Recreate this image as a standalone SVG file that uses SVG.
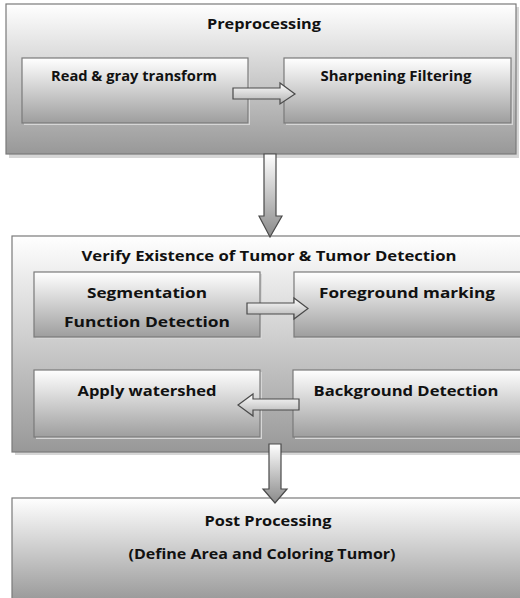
<svg xmlns="http://www.w3.org/2000/svg" width="520" height="598" viewBox="0 0 520 598">
<defs>
<linearGradient id="gOuter" x1="0" y1="0" x2="0" y2="1">
<stop offset="0" stop-color="#ffffff"/>
<stop offset="1" stop-color="#989898"/>
</linearGradient>
<linearGradient id="gInner" x1="0" y1="0" x2="0" y2="1">
<stop offset="0" stop-color="#ffffff"/>
<stop offset="1" stop-color="#9e9e9e"/>
</linearGradient>
<linearGradient id="gArrowV" x1="0" y1="0" x2="0" y2="1">
<stop offset="0" stop-color="#ffffff"/>
<stop offset="1" stop-color="#8a8a8a"/>
</linearGradient>
<linearGradient id="gArrowH" x1="0" y1="0" x2="0" y2="1">
<stop offset="0" stop-color="#ffffff"/>
<stop offset="1" stop-color="#b0b0b0"/>
</linearGradient>
</defs>
<style>
.outer{fill:url(#gOuter);stroke:#7a7a7a;stroke-width:1.2}
.inner{fill:url(#gInner);stroke:#7a7a7a;stroke-width:1.2}
.shadow{fill:#d6d6d6}
.arrV{fill:url(#gArrowV);stroke:#4a4a4a;stroke-width:1.2;stroke-linejoin:miter}
.arrH{fill:url(#gArrowH);stroke:#4a4a4a;stroke-width:1.2;stroke-linejoin:miter}
text{font-family:"Open Sans","Noto Sans",sans-serif;font-weight:bold;font-size:15px;fill:#111;text-anchor:middle}
</style>
<rect width="520" height="598" fill="#ffffff"/>

<g id="preprocessing">
<rect class="shadow" x="9" y="7" width="510" height="151"/>
<rect class="outer" x="6" y="4" width="510" height="150"/>
<text x="264" y="29" textLength="114" lengthAdjust="spacingAndGlyphs">Preprocessing</text>
</g>
<g id="read-gray">
<rect class="shadow" x="24" y="60" width="226" height="65"/>
<rect class="inner" x="22" y="58" width="226" height="65"/>
<text x="134" y="81" textLength="166" lengthAdjust="spacingAndGlyphs">Read &amp; gray transform</text>
</g>
<g id="sharpening">
<rect class="shadow" x="286" y="60" width="227" height="65"/>
<rect class="inner" x="284" y="58" width="227" height="65"/>
<text x="396" y="81" textLength="151" lengthAdjust="spacingAndGlyphs">Sharpening Filtering</text>
</g>

<g id="verify">
<rect class="shadow" x="15" y="239" width="508" height="216"/>
<rect class="outer" x="12" y="236" width="510" height="216"/>
<text x="269" y="261" textLength="375" lengthAdjust="spacingAndGlyphs">Verify Existence of Tumor &amp; Tumor Detection</text>
</g>
<g id="segmentation">
<rect class="shadow" x="36" y="274" width="226" height="65"/>
<rect class="inner" x="34" y="272" width="226" height="65"/>
<text x="147" y="298" textLength="120" lengthAdjust="spacingAndGlyphs">Segmentation</text>
<text x="147" y="327" textLength="166" lengthAdjust="spacingAndGlyphs">Function Detection</text>
</g>
<g id="foreground">
<rect class="shadow" x="296" y="274" width="228" height="65"/>
<rect class="inner" x="294" y="272" width="228" height="65"/>
<text x="407" y="298" textLength="176" lengthAdjust="spacingAndGlyphs">Foreground marking</text>
</g>
<g id="watershed">
<rect class="shadow" x="36" y="372" width="226" height="67"/>
<rect class="inner" x="34" y="370" width="226" height="67"/>
<text x="147" y="396" textLength="139" lengthAdjust="spacingAndGlyphs">Apply watershed</text>
</g>
<g id="background">
<rect class="shadow" x="295" y="372" width="229" height="67"/>
<rect class="inner" x="293" y="370" width="229" height="67"/>
<text x="406" y="396" textLength="185" lengthAdjust="spacingAndGlyphs">Background Detection</text>
</g>

<g id="postprocessing">
<rect class="outer" x="12" y="498" width="510" height="104"/>
<text x="268" y="526" textLength="127" lengthAdjust="spacingAndGlyphs">Post Processing</text>
<text x="262" y="559" textLength="267" lengthAdjust="spacingAndGlyphs">(Define Area and Coloring Tumor)</text>
</g>

<g id="connectors">
<path class="arrH" d="M233,88 H280 V83 L295,94 L280,104 V99 H233 Z"/>
<path class="arrV" d="M264,154 H276 V216 H282 L270,237 L259,216 H264 Z"/>
<path class="arrH" d="M247,303 H294 V298 L308,308.5 L294,319 V314 H247 Z"/>
<path class="arrH" d="M299,399 H253 V394 L238,405 L253,416 V410 H299 Z"/>
<path class="arrV" d="M269,444 H281 V489 H287 L275,503 L263,489 H269 Z"/>
</g>
</svg>
